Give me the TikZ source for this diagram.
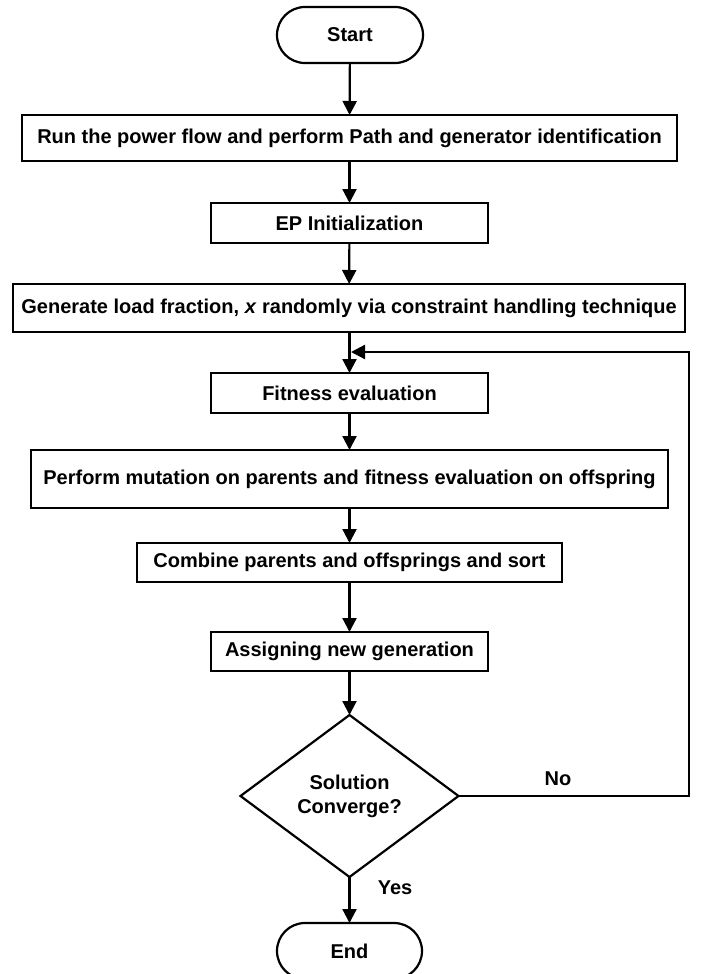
\documentclass[tikz,border=0pt]{standalone}
\usepackage{fontspec}
\setmainfont{Liberation Sans}
\usetikzlibrary{arrows.meta,shapes.geometric,shapes.misc}
\begin{document}
\begin{tikzpicture}[x=1pt,y=-1pt,
  every node/.style={font=\fontsize{20}{24}\selectfont\bfseries, inner sep=0pt, outer sep=0pt},
  procbox/.style={draw, line width=2.2pt, rectangle, align=center},
  termbox/.style={draw, line width=2.2pt, rounded rectangle, minimum width=146pt, minimum height=56pt},
  decbox/.style={draw, line width=2.2pt, diamond, aspect=1.35, minimum width=218pt, minimum height=162pt, align=center},
  arr/.style={line width=2.2pt, -{Triangle[length=14pt,width=14pt]}},
  lbl/.style={}
]
\useasboundingbox (0,0) rectangle (702,974);
\fill[white] (0,0) rectangle (702,974);

\node[termbox] (start) at (350,35) {Start};
\node[procbox, minimum width=655pt, minimum height=46pt] (b1) at (349.5,138) {Run the power flow and perform Path and generator identification};
\node[procbox, minimum width=277pt, minimum height=40pt] (b2) at (349.5,223) {EP Initialization};
\node[procbox, minimum width=672pt, minimum height=48pt] (b3) at (349,308) {Generate load fraction, \textit{x} randomly via constraint handling technique};
\node[procbox, minimum width=277pt, minimum height=40pt] (b4) at (349.5,393) {Fitness evaluation};
\node[procbox, minimum width=637pt, minimum height=58pt] (b5) at (349.5,479) {Perform mutation on parents and fitness evaluation on offspring};
\node[procbox, minimum width=425pt, minimum height=39pt] (b6) at (349.5,562.5) {Combine parents and offsprings and sort};
\node[procbox, minimum width=277pt, minimum height=39pt] (b7) at (349.5,651.5) {Assigning new generation};
\node[decbox] (dec) at (349.5,796) {Solution\\Converge?};
\node[termbox, minimum width=145pt] (end) at (349.5,951) {End};

\node[lbl] (no) at (558,779) {No};
\node[lbl] (yes) at (395,888) {Yes};

\draw[arr] (start) -- (b1);
\draw[arr] (b1) -- (b2);
\draw[arr] (b2) -- (b3);
\draw[arr] (b3.south -| b4.north) -- (b4);
\draw[arr] (b4) -- (b5);
\draw[arr] (b5) -- (b6);
\draw[arr] (b6) -- (b7);
\draw[arr] (b7) -- (dec);
\draw[arr] (dec) -- (end);

\coordinate (turn) at (689,352);
\coordinate (join) at (351,352);
\draw[arr] (dec.east) -| (turn) -- (join);
\end{tikzpicture}
\end{document}
